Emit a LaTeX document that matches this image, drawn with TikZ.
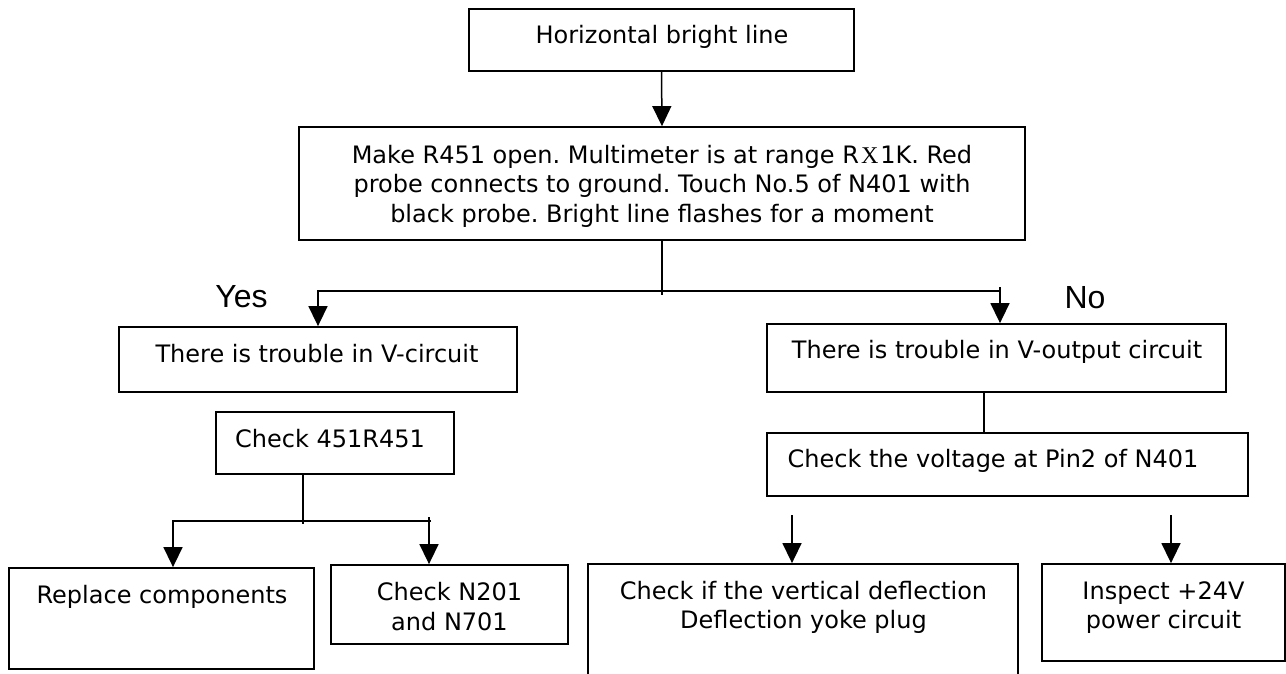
\documentclass[tikz,border=0pt]{standalone}
\usepackage{fontspec}
\setmainfont{DejaVu Sans}
\newfontfamily\yesnofont{Liberation Sans}
\newfontfamily\serifx{Liberation Serif}
\usetikzlibrary{arrows.meta}
\frenchspacing
\begin{document}
\begin{tikzpicture}[x=1pt,y=-1pt,
  box/.style={draw=black,line width=1.8pt,inner sep=0pt,rectangle},
  txt/.style={inner sep=0pt,anchor=base,align=center,font=\fontsize{24pt}{29.5pt}\selectfont},
  yn/.style={inner sep=0pt,anchor=base,font=\yesnofont\fontsize{32pt}{36pt}\selectfont},
  conn/.style={draw=black,line width=1.5pt},
  arr/.style={-{Triangle[length=20pt,width=19pt]}}]
\path[use as bounding box,fill=white] (0,0) rectangle (1286,673);
\clip (0,0) rectangle (1286,673);
% boxes
\node[box,minimum width=385pt,minimum height=62pt] (top) at (661.5,40) {};
\node[box,minimum width=726pt,minimum height=113pt] (b2) at (662,183.5) {};
\node[box,minimum width=398pt,minimum height=65pt] (l1) at (318,359.5) {};
\node[box,minimum width=238pt,minimum height=62pt] (l2) at (335,443) {};
\node[box,minimum width=305pt,minimum height=101pt] (l3) at (161.5,618.5) {};
\node[box,minimum width=237pt,minimum height=79pt] (l4) at (449.5,604.5) {};
\node[box,minimum width=459pt,minimum height=68pt] (r1) at (996.5,358) {};
\node[box,minimum width=481pt,minimum height=63pt] (r2) at (1007.5,464.5) {};
\node[box,minimum width=430pt,minimum height=136pt] (r3) at (803,632) {};
\node[box,minimum width=243pt,minimum height=97pt] (r4) at (1163.5,612.5) {};
% texts (base = baseline of the last line)
\node[txt] (ttop) at (662,43.5) {Horizontal bright line};
\node[txt] (tb2) at (662,222) {Make R451 open. Multimeter is at range R\hspace{2pt}{\serifx X}\hspace{2pt}1K. Red\\probe connects to ground. Touch No.5 of N401 with\\black probe. Bright line flashes for a moment};
\node[txt] (tl1) at (317,362) {There is trouble in V-circuit};
\node[txt] (tl2) at (330,447) {Check 451R451};
\node[txt] (tl3) at (162,603) {Replace components};
\node[txt] (tl4) at (449.5,630) {Check N201\\and N701};
\node[txt] (tr1) at (997,358) {There is trouble in V-output circuit};
\node[txt] (tr2) at (993,467) {Check the voltage at Pin2 of N401};
\node[txt] (tr3) at (803.5,628.5) {Check if the vertical deflection\\Deflection yoke plug};
\node[txt] (tr4) at (1163.5,628.5) {Inspect +24V\\power circuit};
\node[yn] (yes) at (241.5,307) {Yes};
\node[yn] (no) at (1085,308) {No};
% junction coordinates
\coordinate (jc) at (662,295);
\coordinate (jL) at (318,291);
\coordinate (jR) at (1000,291);
\coordinate (jRt) at (1000,287);
\coordinate (kc) at (303,524);
\coordinate (kL) at (173,521);
\coordinate (kR) at (431,521);
\coordinate (kRt) at (429,517);
\coordinate (m1) at (984,400);
\coordinate (f1) at (792,515);
\coordinate (f2) at (1171,515);
% connectors
\draw[conn,arr] (top.south) -- (b2.north);
\draw[conn] (b2.south) -- (jc);
\draw[conn,arr] (jR) -- (jL) -- (l1.north);
\draw[conn,arr] (jRt) -- (jRt |- r1.north);
\draw[conn] (l2.south -| kc) -- (kc);
\draw[conn,arr] (kR) -- (kL) -- (kL |- l3.north);
\draw[conn,arr] (kRt) -- (kRt |- l4.north);
\draw[conn] (r1.south -| m1) -- (r2.north -| m1);
\draw[conn,arr] (f1) -- (f1 |- r3.north);
\draw[conn,arr] (f2) -- (f2 |- r4.north);
\end{tikzpicture}
\end{document}
